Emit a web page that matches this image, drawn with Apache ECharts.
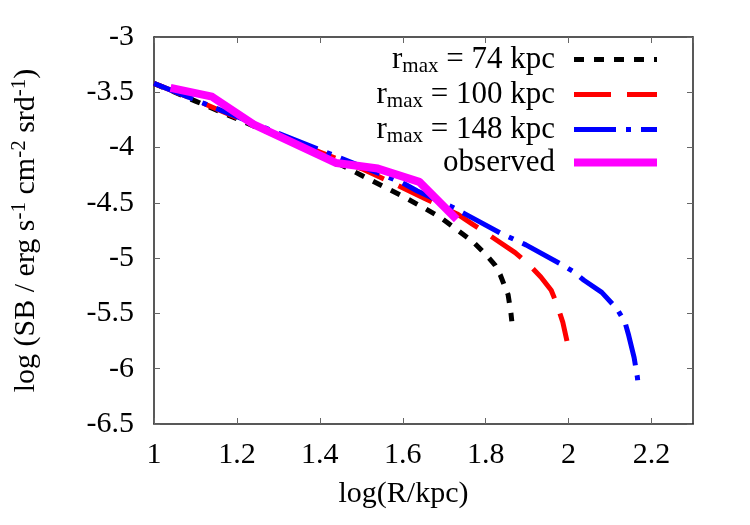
<!DOCTYPE html>
<html>
<head>
<meta charset="utf-8">
<script src="https://cdn.jsdelivr.net/npm/echarts@6/dist/echarts.min.js"></script>
<style>
  html, body { margin: 0; padding: 0; background: #fff; }
  #main { width: 750px; height: 525px; }
</style>
</head>
<body>
<div id="main"></div>
<script>
// curves: [log R, log SB]
var rmax74 = [[1.0,-3.42],[1.1,-3.58],[1.2,-3.74],[1.3,-3.90],[1.4,-4.06],[1.5,-4.25],[1.552,-4.35],[1.605,-4.45],[1.653,-4.55],[1.69,-4.63],[1.726,-4.73],[1.769,-4.85],[1.806,-4.99],[1.822,-5.06],[1.835,-5.15],[1.854,-5.33],[1.861,-5.50],[1.863,-5.57]];
var rmax100 = [[1.0,-3.42],[1.1,-3.57],[1.2,-3.73],[1.3,-3.89],[1.4,-4.04],[1.5,-4.19],[1.576,-4.32],[1.653,-4.46],[1.731,-4.60],[1.767,-4.69],[1.80,-4.77],[1.871,-4.95],[1.902,-5.05],[1.933,-5.17],[1.958,-5.29],[1.972,-5.42],[1.986,-5.58],[1.996,-5.75]];
var rmax148 = [[1.0,-3.42],[1.1,-3.57],[1.2,-3.72],[1.3,-3.87],[1.4,-4.02],[1.5,-4.17],[1.6,-4.32],[1.634,-4.39],[1.72,-4.54],[1.75,-4.60],[1.839,-4.78],[1.868,-4.83],[1.897,-4.88],[1.984,-5.06],[2.011,-5.12],[2.037,-5.20],[2.08,-5.31],[2.117,-5.46],[2.136,-5.58],[2.145,-5.70],[2.158,-5.90],[2.166,-6.08],[2.168,-6.17]];
var observed = [[1.04,-3.46],[1.14,-3.54],[1.24,-3.79],[1.44,-4.14],[1.54,-4.19],[1.64,-4.31],[1.73,-4.65]];

var seriesNames = ['r74', 'r100', 'r148', 'observed'];
var legendLabels = ['{t|r}{s|max}{t| = 74 kpc}', '{t|r}{s|max}{t| = 100 kpc}', '{t|r}{s|max}{t| = 148 kpc}', '{t|observed}'];
var colors = ['#000000', '#ff0000', '#0000ff', '#ff00ff'];
var dashes = [[10, 10], [37, 16], [42, 10, 5, 10], 'solid'];
var widths = [5, 5, 5, 8];

var xMin = 1, xMax = 2.3, xStep = 0.2;
var yMin = -6.5, yMax = -3, yStep = 0.5;

var font = '"Liberation Serif", "Times New Roman", serif';
var allData = [rmax74, rmax100, rmax148, observed];

var series = [];
var legendData = [];
for (var i = 0; i < seriesNames.length; i++) {
	series.push({
		name: seriesNames[i],
		type: 'line',
		data: allData[i],
		showSymbol: false,
		symbol: 'none',
		smooth: false,
		z: 2 + i,
		lineStyle: { color: colors[i], width: widths[i], type: dashes[i], cap: 'butt', join: 'round' },
		itemStyle: { color: colors[i] }
	});
	legendData.push({
		name: seriesNames[i],
		itemStyle: { opacity: 0 },
		lineStyle: { color: colors[i], width: widths[i], type: dashes[i] }
	});
}

var axisLineStyle = { color: '#222', width: 1.5 };
var tickStyle = { color: '#666', width: 1 };

var myChart = echarts.init(document.getElementById('main'));
var option = {
	animation: false,
	backgroundColor: '#fff',
	grid: { left: 154, right: 57, top: 37, bottom: 101, outerBoundsMode: 'none', containLabel: false },
	legend: {
		orient: 'vertical',
		right: 84,
		top: 37,
		align: 'right',
		itemWidth: 83,
		itemHeight: 14,
		itemGap: 0,
		data: legendData,
		formatter: function(name) {
			return legendLabels[seriesNames.indexOf(name)];
		},
		textStyle: {
			padding: [0, 14, 0, 0],
			rich: {
				t: { fontFamily: font, fontSize: 31, color: '#000', lineHeight: 31 },
				s: { fontFamily: font, fontSize: 21, color: '#000', lineHeight: 31, padding: [14, 0, 0, 0] }
			}
		}
	},
	xAxis: [{
		type: 'value',
		min: xMin, max: xMax, interval: xStep,
		name: 'log(R/kpc)',
		nameLocation: 'middle',
		nameGap: 55,
		nameTextStyle: { fontFamily: font, fontSize: 30, color: '#000', padding: [0, 40, 0, 0] },
		axisLine: { show: true, onZero: false, lineStyle: axisLineStyle },
		axisTick: { show: true, inside: true, length: 6, lineStyle: tickStyle },
		axisLabel: { fontFamily: font, fontSize: 30, color: '#000', margin: 16, showMaxLabel: false },
		splitLine: { show: false }
	}, {
		type: 'value', position: 'top',
		min: xMin, max: xMax, interval: xStep,
		axisLine: { show: true, onZero: false, lineStyle: axisLineStyle },
		axisTick: { show: true, inside: true, length: 6, lineStyle: tickStyle },
		axisLabel: { show: false },
		splitLine: { show: false }
	}],
	yAxis: [{
		type: 'value',
		min: yMin, max: yMax, interval: yStep,
		name: '{t|log (SB / erg s}{p|-1}{t| cm}{p|-2}{t| srd}{p|-1}{t|)}',
		nameLocation: 'middle',
		nameGap: 112,
		nameTextStyle: {
			rich: {
				t: { fontFamily: font, fontSize: 30, color: '#000', lineHeight: 32 },
				p: { fontFamily: font, fontSize: 21, color: '#000', lineHeight: 32, padding: [0, 0, 14, 0] }
			}
		},
		axisLine: { show: true, onZero: false, lineStyle: axisLineStyle },
		axisTick: { show: true, inside: true, length: 6, lineStyle: tickStyle },
		axisLabel: { fontFamily: font, fontSize: 30, color: '#000', margin: 20 },
		splitLine: { show: false }
	}, {
		type: 'value', position: 'right',
		min: yMin, max: yMax, interval: yStep,
		axisLine: { show: true, onZero: false, lineStyle: axisLineStyle },
		axisTick: { show: true, inside: true, length: 6, lineStyle: tickStyle },
		axisLabel: { show: false },
		splitLine: { show: false }
	}],
	series: series
};
myChart.setOption(option);
</script>
</body>
</html>
